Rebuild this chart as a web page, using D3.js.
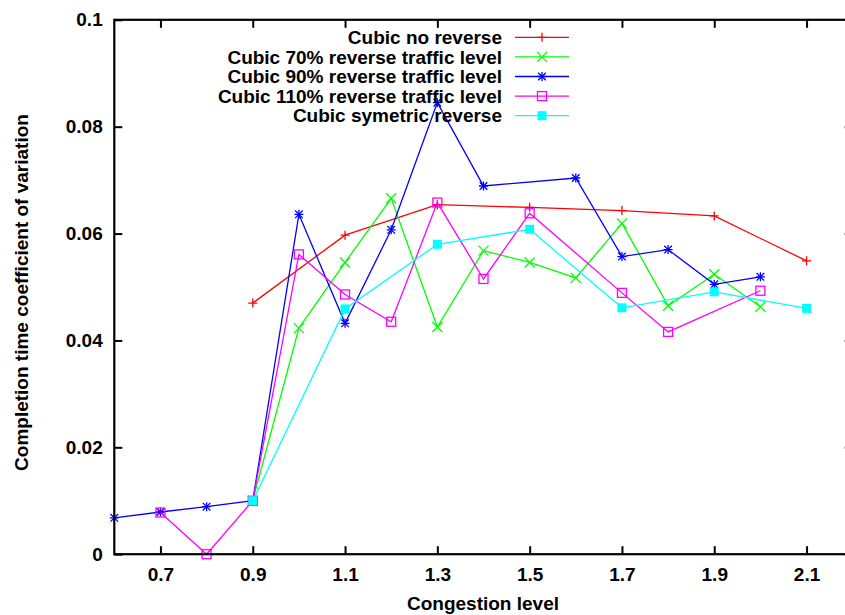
<!DOCTYPE html>
<html><head><meta charset="utf-8">
<script src="https://cdn.jsdelivr.net/npm/d3@7"></script>
<style>
body{margin:0;background:#fff;}
svg{display:block;}
text{font-family:"Liberation Sans",Arial,Helvetica,sans-serif;font-weight:bold;fill:#000;}
</style></head>
<body><svg id="c" width="845" height="615"></svg>
<script>
const levels = [0.6,0.7,0.8,0.9,1.0,1.1,1.2,1.3,1.4,1.5,1.6,1.7,1.8,1.9,2.0,2.1];
const seriesNames = ["Cubic no reverse","Cubic 70% reverse traffic level","Cubic 90% reverse traffic level","Cubic 110% reverse traffic level","Cubic symetric reverse"];
const noReverse = [null,null,null,0.0470,null,0.0597,null,0.0654,null,0.0649,null,0.0643,null,0.0633,null,0.0549];
const rev70 = [null,null,null,0.0100,0.0423,0.0546,0.0666,0.0425,0.0568,0.0546,0.0517,0.0619,0.0465,0.0524,0.0463,null];
const rev90 = [0.0068,0.0079,0.0089,0.0100,0.0636,0.0432,0.0607,0.0845,0.0689,null,0.0704,0.0557,0.0570,0.0505,0.0519,null];
const rev110 = [null,0.0078,0.0000,0.0100,0.0561,0.0486,0.0435,0.0658,0.0515,0.0638,null,0.0489,0.0416,null,0.0493,null];
const symetric = [null,null,null,0.0100,null,0.0459,null,0.0580,null,0.0608,null,0.0461,null,0.0491,null,0.0460];
const xTicks = [0.7,0.9,1.1,1.3,1.5,1.7,1.9,2.1];
const yTicks = [0,0.02,0.04,0.06,0.08,0.1];
const xTickLabels = ["0.7","0.9","1.1","1.3","1.5","1.7","1.9","2.1"];
const yTickLabels = ["0","0.02","0.04","0.06","0.08","0.1"];

const colors = ["#ff0000","#00ff00","#0000ff","#ff00ff","#00ffff"];
const markers = ["plus","cross","star","box","fbox"];
const allSeries = [noReverse,rev70,rev90,rev110,symetric];

const L=114.3, R=852.7, T=19.8, B=554.2;
const x = d3.scaleLinear().domain([0.6,2.2]).range([L,R]);
const y = d3.scaleLinear().domain([0,0.1]).range([B,T]);
const svg = d3.select("#c");
const FS = 19;

function drawMarker(g, type, cx, cy, color){
  const s=4.5;
  if(type==="plus"||type==="star"){
    g.append("path").attr("d",`M${cx-s},${cy}H${cx+s}M${cx},${cy-s}V${cy+s}`).attr("stroke",color).attr("stroke-width",1.3).attr("fill","none");
  }
  if(type==="cross"||type==="star"){
    const t = type==="star"?3.8:5;
    g.append("path").attr("d",`M${cx-t},${cy-t}L${cx+t},${cy+t}M${cx-t},${cy+t}L${cx+t},${cy-t}`).attr("stroke",color).attr("stroke-width",1.3).attr("fill","none");
  }
  if(type==="box"){
    g.append("rect").attr("x",cx-4.5).attr("y",cy-4.5).attr("width",9).attr("height",9).attr("fill","none").attr("stroke",color).attr("stroke-width",1.3);
  }
  if(type==="fbox"){
    g.append("rect").attr("x",cx-4.5).attr("y",cy-4.5).attr("width",9).attr("height",9).attr("fill",color);
  }
}

// series
const line = d3.line().x(d=>x(d[0])).y(d=>y(d[1]));
allSeries.forEach((vals,i)=>{
  const pts = levels.map((l,j)=>[l,vals[j]]).filter(d=>d[1]!==null);
  const g = svg.append("g");
  g.append("path").datum(pts).attr("d",line).attr("fill","none").attr("stroke",colors[i]).attr("stroke-width",1.3);
  pts.forEach(d=>drawMarker(g,markers[i],x(d[0]),y(d[1]),colors[i]));
});

// axes with inward ticks
const ax = svg.append("g");
const axB = ax.append("g").attr("transform",`translate(0,${B})`)
  .call(d3.axisBottom(x).tickValues(xTicks).tickFormat((d,i)=>xTickLabels[i]).tickSizeInner(-8).tickSizeOuter(0).tickPadding(13));
const axT = ax.append("g").attr("transform",`translate(0,${T})`)
  .call(d3.axisTop(x).tickValues(xTicks).tickFormat("").tickSizeInner(-8).tickSizeOuter(0));
const axL = ax.append("g").attr("transform",`translate(${L},0)`)
  .call(d3.axisLeft(y).tickValues(yTicks).tickFormat((d,i)=>yTickLabels[i]).tickSizeInner(-8).tickSizeOuter(0).tickPadding(11.6));
const axR = ax.append("g").attr("transform",`translate(${R},0)`)
  .call(d3.axisRight(y).tickValues(yTicks).tickFormat("").tickSizeInner(-8).tickSizeOuter(0));
[axB,axT,axL,axR].forEach(g=>{
  g.select(".domain").remove();
  g.selectAll(".tick line").attr("stroke","#000").attr("stroke-width",2);
  g.selectAll("text").attr("font-size",FS).attr("font-family",null).attr("font-weight","bold");
});
ax.append("rect").attr("x",L).attr("y",T).attr("width",R-L).attr("height",B-T).attr("fill","none").attr("stroke","#000").attr("stroke-width",2.2);

// axis titles
svg.append("text").attr("x",483).attr("y",610).attr("text-anchor","middle").attr("font-size",FS).text("Congestion level");
svg.append("text").attr("transform","translate(28,292.5) rotate(-90)").attr("text-anchor","middle").attr("font-size",FS).text("Completion time coefficient of variation");

// legend
const lg = svg.append("g");
seriesNames.forEach((n,i)=>{
  const yy = 37.3 + i*19.6;
  lg.append("text").attr("x",502).attr("y",yy).attr("dy","0.35em").attr("text-anchor","end").attr("font-size",FS).text(n);
  lg.append("line").attr("x1",515).attr("x2",569).attr("y1",yy).attr("y2",yy).attr("stroke",colors[i]).attr("stroke-width",1.3);
  drawMarker(lg,markers[i],542,yy,colors[i]);
});
</script></body></html>
